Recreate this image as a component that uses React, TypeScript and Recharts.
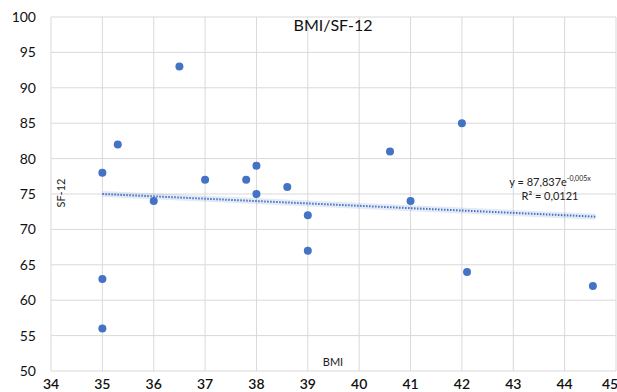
import React from 'react';
import { ScatterChart, Scatter, XAxis, YAxis, CartesianGrid, ReferenceLine } from 'recharts';

const bmi = [35, 35, 35, 35.3, 36, 36.5, 37, 37.8, 38, 38, 38.6, 39, 39, 40.6, 41, 42, 42.1, 44.55];
const sf12 = [78, 63, 56, 82, 74, 93, 77, 77, 79, 75, 76, 72, 67, 81, 74, 85, 64, 62];
const xTicks = [34, 35, 36, 37, 38, 39, 40, 41, 42, 43, 44, 45];
const yTicks = [50, 55, 60, 65, 70, 75, 80, 85, 90, 95, 100];
const trendX = [35, 44.6];
const trendY = [75.0, 71.8];

const points = bmi.map((x, i) => ({ x, y: sf12[i] }));
const trendSeg = trendX.map((x, i) => ({ x, y: trendY[i] }));

const FONT = 'Lato, "Open Sans", sans-serif';
const BLUE = '#4472C4';

export default function App() {
  return (
    <div style={{ position: 'absolute', left: 0, top: 0, width: 617, height: 392, fontFamily: FONT, background: '#fff' }}>
      <ScatterChart width={617} height={392} margin={{ top: 17, right: 1, bottom: 0, left: 0 }}>
        <CartesianGrid stroke="#d9d9d9" strokeWidth={1} />
        <XAxis
          type="number"
          dataKey="x"
          domain={[34, 45]}
          ticks={xTicks}
          allowDataOverflow
          axisLine={false}
          tickLine={false}
          tickSize={0}
          tickMargin={8}
          height={21}
          tick={{ fill: '#111', fontSize: 14, fontFamily: FONT, fontWeight: 600 }}
        />
        <YAxis
          type="number"
          dataKey="y"
          domain={[50, 100]}
          ticks={yTicks}
          allowDataOverflow
          axisLine={false}
          tickLine={false}
          tickSize={0}
          tickMargin={15}
          width={51}
          tick={{ fill: '#111', fontSize: 14, fontFamily: FONT }}
        />
        <ReferenceLine segment={trendSeg} stroke={BLUE} strokeOpacity={0.15} strokeWidth={6} />
        <ReferenceLine segment={trendSeg} stroke={BLUE} strokeWidth={2} strokeDasharray="1.5 1.5" />
        <Scatter data={points} fill={BLUE} isAnimationActive={false} shape={(p: any) => <circle cx={p.cx} cy={p.cy} r={4} fill={BLUE} />} />
      </ScatterChart>
      <div style={{ position: 'absolute', left: 233, width: 200, top: 16, textAlign: 'center', fontSize: 16, color: '#111', lineHeight: '18px' }}>BMI/SF-12</div>
      <div style={{ position: 'absolute', left: 61, top: 193, transform: 'translate(-50%, -50%) rotate(-90deg)', fontSize: 11, color: '#222', whiteSpace: 'nowrap', lineHeight: '12px' }}>SF-12</div>
      <div style={{ position: 'absolute', left: 333, top: 362, transform: 'translate(-50%, -50%)', fontSize: 11, color: '#222', whiteSpace: 'nowrap', lineHeight: '12px' }}>BMI</div>
      <div style={{ position: 'absolute', left: 470, width: 160, top: 175, textAlign: 'center', fontSize: 11, color: '#222', lineHeight: '14px' }}>
        <div>y = 87,837e<sup style={{ fontSize: 7, verticalAlign: 'super', lineHeight: 0 }}>-0,005x</sup></div>
        <div>R² = 0,0121</div>
      </div>
    </div>
  );
}
